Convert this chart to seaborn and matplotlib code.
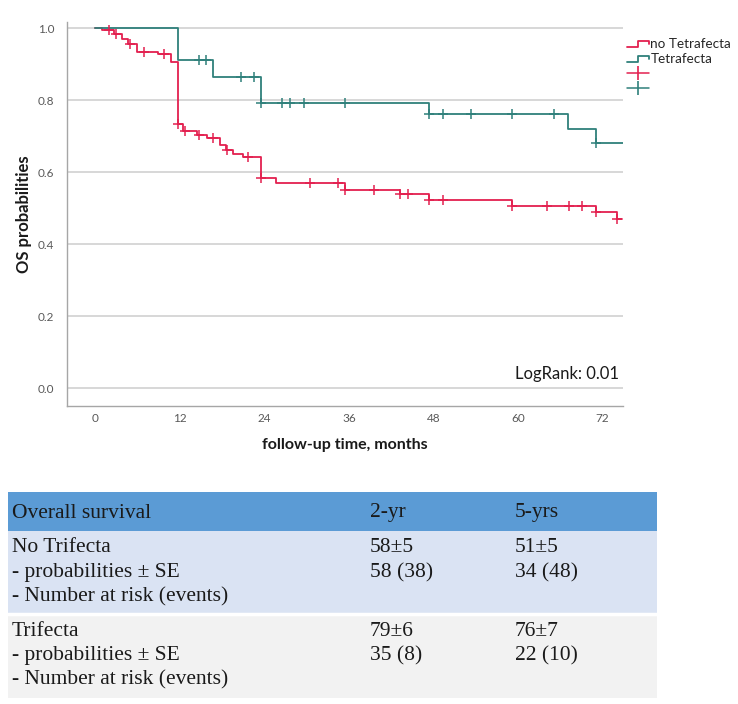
import numpy as np
import matplotlib
matplotlib.use("Agg")
import matplotlib.pyplot as plt
import seaborn as sns
from matplotlib.lines import Line2D
from matplotlib.patches import Rectangle
from matplotlib.legend_handler import HandlerBase

# Kaplan-Meier steps (months, survival after the step)
red_step_t = [0.95, 2.6, 3.8, 4.7, 5.9, 8.9, 10.8, 11.7, 12.4, 14.4, 15.9, 17.7, 18.5, 19.6,
              21.0, 23.6, 25.7, 35.5, 43.3, 47.3, 59.2, 71.1, 74.0]
red_step_s = [0.994, 0.985, 0.971, 0.955, 0.934, 0.927, 0.906, 0.733, 0.714, 0.703, 0.695, 0.675,
              0.661, 0.649, 0.641, 0.583, 0.571, 0.550, 0.539, 0.522, 0.506, 0.488, 0.469]
red_censor = [2.0, 3.0, 4.9, 6.9, 9.8, 11.7, 12.8, 14.8, 16.7, 18.7, 21.7, 23.6, 30.5, 34.5,
              35.5, 39.5, 43.3, 44.4, 47.3, 49.4, 59.2, 64.1, 67.2, 69.1, 71.1, 74.0]
red_end = 74.8

teal_step_t = [11.8, 16.7, 23.6, 47.3, 67.1, 71.0]
teal_step_s = [0.911, 0.865, 0.791, 0.760, 0.721, 0.681]
teal_censor = [14.7, 15.7, 20.7, 22.6, 23.6, 26.5, 27.6, 29.6, 35.5, 47.3, 49.4, 53.3, 59.2,
               65.1, 71.0]
teal_end = 74.9

group_labels = ["no Tetrafecta", "Tetrafecta"]
x_ticks = [0, 12, 24, 36, 48, 60, 72]
y_ticks = [0.0, 0.2, 0.4, 0.6, 0.8, 1.0]
logrank_text = "LogRank: 0.01"

# table contents
table_header = ["Overall survival", "2-yr", "5-yrs"]
table_groups = ["No Trifecta", "Trifecta"]
table_rows = ["- probabilities \u00b1 SE", "- Number at risk (events)"]
table_2yr = [["58\u00b15", "58 (38)"], ["79\u00b16", "35 (8)"]]
table_5yr = [["51\u00b15", "34 (48)"], ["76\u00b17", "22 (10)"]]

RED = "#e3204f"
TEAL = "#2f807b"

sns.set_style("white")
plt.rcParams['font.family'] = ['Lato', 'DejaVu Sans']


def km_curve(step_t, step_s, end_t):
    x = np.array([0.0] + step_t + [end_t])
    y = np.array([1.0] + step_s + [step_s[-1]])
    return x, y


def censor_y(step_t, step_s, censor_t):
    t = np.array([0.0] + step_t)
    s = np.array([1.0] + step_s)
    idx = np.searchsorted(t, censor_t, side='right') - 1
    return s[idx]


class StepHandler(HandlerBase):
    def create_artists(self, legend, orig_handle, xdescent, ydescent, width, height, fontsize, trans):
        x0 = -xdescent
        y0 = -ydescent
        xs = [x0, x0 + width * 0.5, x0 + width * 0.5, x0 + width, x0 + width]
        ys = [y0 + height * 0.15, y0 + height * 0.15, y0 + height * 0.75, y0 + height * 0.75, y0 + height * 0.45]
        line = Line2D(xs, ys, color=orig_handle.get_color(), lw=1.3)
        line.set_transform(trans)
        return [line]


fig = plt.figure(figsize=(7.38, 7.04), dpi=100)
ax = fig.add_axes([67 / 738, 1 - 406 / 704, (623 - 67) / 738, (406 - 22) / 704])

for step_t, step_s, end_t, cens, col in [(red_step_t, red_step_s, red_end, red_censor, RED),
                                         (teal_step_t, teal_step_s, teal_end, teal_censor, TEAL)]:
    x, y = km_curve(step_t, step_s, end_t)
    sns.lineplot(x=x, y=y, drawstyle='steps-post', color=col, lw=1.3, estimator=None, sort=False, ax=ax)
    sns.scatterplot(x=cens, y=censor_y(step_t, step_s, cens), marker='+', color=col, s=60,
                    linewidth=1.1, ax=ax, zorder=3)

ax.set_xlim(-4.0, 74.9)
ax.set_ylim(-0.05, 1.017)
ax.set_xticks(x_ticks)
ax.set_yticks(y_ticks)
ax.set_yticklabels([f"{v:.1f}" for v in y_ticks])
ax.tick_params(axis='both', length=0, labelsize=8.5, colors='#595959')
ax.tick_params(axis='x', pad=5)
ax.tick_params(axis='y', pad=9)
ax.yaxis.grid(True, color='#d4d4d4', lw=1.3)
ax.set_axisbelow(True)
for side in ['top', 'right']:
    ax.spines[side].set_visible(False)
for side in ['left', 'bottom']:
    ax.spines[side].set_color('#a6a6a6')
    ax.spines[side].set_linewidth(1.0)

ax.set_ylabel("OS probabilities", fontsize=12, fontweight='bold', color='#1a1a1a', labelpad=4)
ax.set_xlabel("follow-up time, months", fontsize=11.5, fontweight='bold', color='#1a1a1a', labelpad=10)
ax.text(74.3, 0.04, logrank_text, ha='right', va='center', fontsize=12, color='#1a1a1a')

handles = [Line2D([], [], color=RED), Line2D([], [], color=TEAL),
           Line2D([], [], color=RED, marker='|', ls='-', lw=1.1, markersize=10, mew=1.2),
           Line2D([], [], color=TEAL, marker='|', ls='-', lw=1.1, markersize=10, mew=1.2)]
fig.legend(handles, group_labels + ["", ""], loc='upper left', bbox_to_anchor=(622 / 738, 1 - 33 / 704),
           frameon=False, fontsize=9.7, handlelength=1.6, handletextpad=0.1, labelspacing=0.2,
           borderaxespad=0, numpoints=1,
           handler_map={handles[0]: StepHandler(), handles[1]: StepHandler()})

# table below the chart, drawn in pixel units
tx0, ty0, tx1, ty1 = 8, 492, 657, 698
tab = fig.add_axes([tx0 / 738, 1 - ty1 / 704, (tx1 - tx0) / 738, (ty1 - ty0) / 704])
tab.set_xlim(0, tx1 - tx0)
tab.set_ylim(ty1 - ty0, 0)
tab.axis('off')

row_bounds = [(0, 39, '#5b9bd5'), (39, 122, '#dae3f3'), (122, 206, '#f2f2f2')]
for top, bot, fc in row_bounds:
    tab.add_patch(Rectangle((0, top), tx1 - tx0, bot - top, facecolor=fc, edgecolor='none'))
tab.plot([0, tx1 - tx0], [122, 122], color='white', lw=2.5)

serif = ['Liberation Serif', 'DejaVu Serif']
col_x = [4, 362, 507]
tfs = 15.5
for cx, txt in zip(col_x, table_header):
    tab.text(cx, 21, txt, family=serif, fontsize=tfs, va='center', ha='left', color='#1a1a1a')

for gi, top in enumerate([39, 122]):
    lines = [table_groups[gi]] + table_rows
    for li, txt in enumerate(lines):
        tab.text(col_x[0], top + 17 + li * 24.5, txt, family=serif, fontsize=tfs, va='center', color='#1a1a1a')
    for li in range(2):
        tab.text(col_x[1], top + 17 + li * 24.5, table_2yr[gi][li], family=serif, fontsize=tfs,
                 va='center', color='#1a1a1a')
        tab.text(col_x[2], top + 17 + li * 24.5, table_5yr[gi][li], family=serif, fontsize=tfs,
                 va='center', color='#1a1a1a')

fig.savefig("out.png", dpi=100)
